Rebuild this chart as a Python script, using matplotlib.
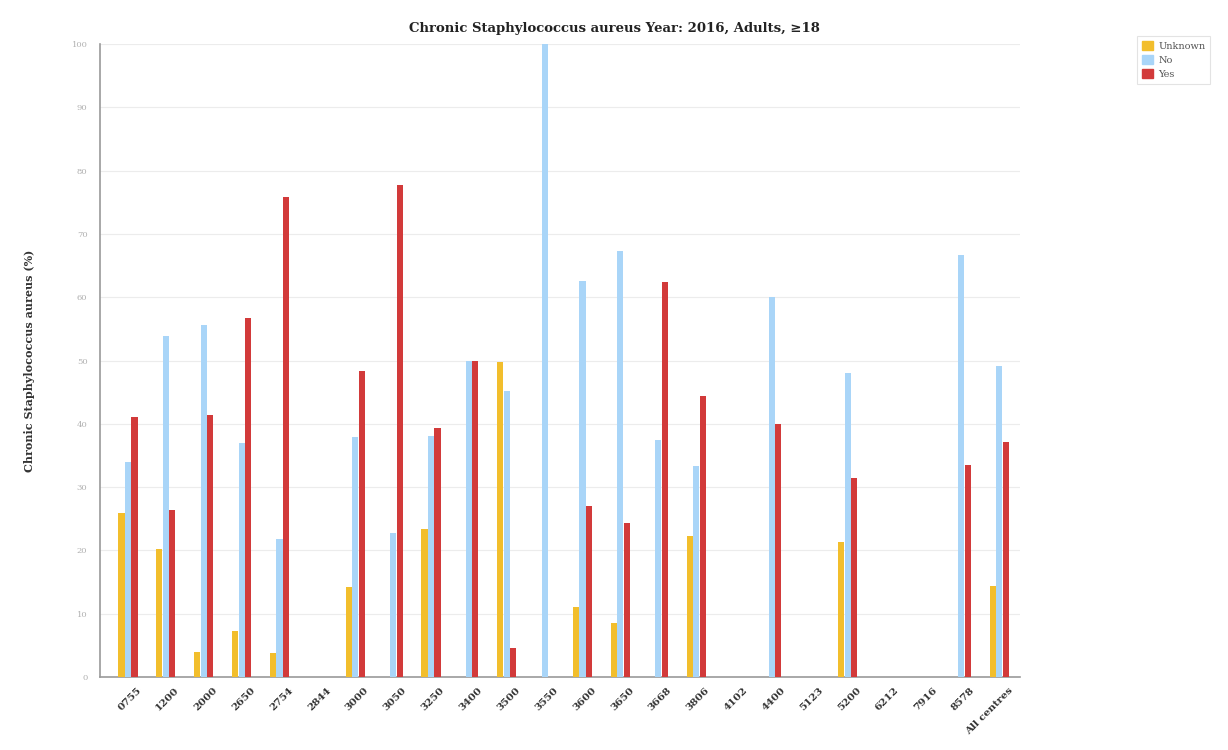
import matplotlib
matplotlib.use("Agg")
import matplotlib.pyplot as plt
import matplotlib.transforms as mtransforms
from matplotlib.patches import Patch
import numpy as np

# values (% of patients)
centres = ["0755", "1200", "2000", "2650", "2754", "2844", "3000", "3050", "3250",
           "3400", "3500", "3550", "3600", "3650", "3668", "3806", "4102", "4400",
           "5123", "5200", "6212", "7916", "8578", "All centres"]
unknown = [25.9, 20.3, 4.0, 7.2, 3.8, 0, 14.3, 0, 23.4,
           0, 49.8, 0, 11.0, 8.6, 0, 22.2, 0, 0,
           0, 21.3, 0, 0, 0, 14.4]
no = [34.0, 53.8, 55.6, 37.0, 21.8, 0, 37.9, 22.8, 38.0,
      50.0, 45.2, 100.0, 62.6, 67.3, 37.5, 33.4, 0, 60.0,
      0, 48.0, 0, 0, 66.6, 49.1]
yes = [41.0, 26.4, 41.4, 56.7, 75.9, 0, 48.4, 77.8, 39.3,
       50.0, 4.6, 0, 27.0, 24.4, 62.4, 44.4, 0, 40.0,
       0, 31.4, 0, 0, 33.5, 37.2]
series_names = ["Unknown", "No", "Yes"]
colors = ["#F2BE2C", "#A9D5F8", "#D23A3A"]

serif = ["DejaVu Serif"]

fig = plt.figure(figsize=(12.28, 7.5), dpi=100)
ax = fig.add_axes([0.0814, 0.0973, 0.7492, 0.844])

x = np.arange(len(centres))
w = 0.16
off = 0.172
for i, (vals, col) in enumerate(zip([unknown, no, yes], colors)):
    ax.bar(x + (i - 1) * off, vals, width=w, color=col, zorder=3)

ax.set_xlim(-0.74, 23.55)
ax.set_ylim(0, 100)
ax.set_yticks(np.arange(0, 101, 10))
ax.yaxis.grid(True, color="#ececec", linewidth=0.8, zorder=0)
for s in ["top", "right"]:
    ax.spines[s].set_visible(False)
for s in ["left", "bottom"]:
    ax.spines[s].set_color("#9a9a9a")
    ax.spines[s].set_linewidth(1.2)
ax.tick_params(axis="y", length=0, labelsize=6, labelcolor="#b0b0b0", pad=9)
ax.tick_params(axis="x", length=0, pad=4)
for lab in ax.get_yticklabels():
    lab.set_family(serif)

ax.set_xticks(x)
ax.set_xticklabels(centres, rotation=45, ha="right", va="center",
                   rotation_mode="anchor", fontsize=7.5, fontweight="bold",
                   color="#333333", family=serif)
shift = mtransforms.ScaledTranslation(12 / 100, -6 / 100, fig.dpi_scale_trans)
for lab in ax.get_xticklabels():
    lab.set_transform(lab.get_transform() + shift)

ax.set_ylabel("Chronic Staphylococcus aureus (%)", fontsize=8, fontweight="bold",
              color="#333333", family=serif, labelpad=26)
fig.text(0.5, 0.962, "Chronic Staphylococcus aureus Year: 2016, Adults, \u226518",
         ha="center", va="center", fontsize=9.5, fontweight="bold",
         color="#222222", family=serif)

handles = [Patch(facecolor=c, edgecolor=c) for c in colors]
leg = fig.legend(handles, series_names, loc="upper left",
                 bbox_to_anchor=(0.922, 0.958), frameon=True,
                 fancybox=False, handlelength=1.1, handleheight=1.0,
                 handletextpad=0.6, borderpad=0.5, labelspacing=0.45,
                 prop={"family": serif, "size": 7})
leg.get_frame().set_edgecolor("#dddddd")
leg.get_frame().set_linewidth(0.8)
for t in leg.get_texts():
    t.set_color("#555555")

fig.savefig("out.png", dpi=100)
